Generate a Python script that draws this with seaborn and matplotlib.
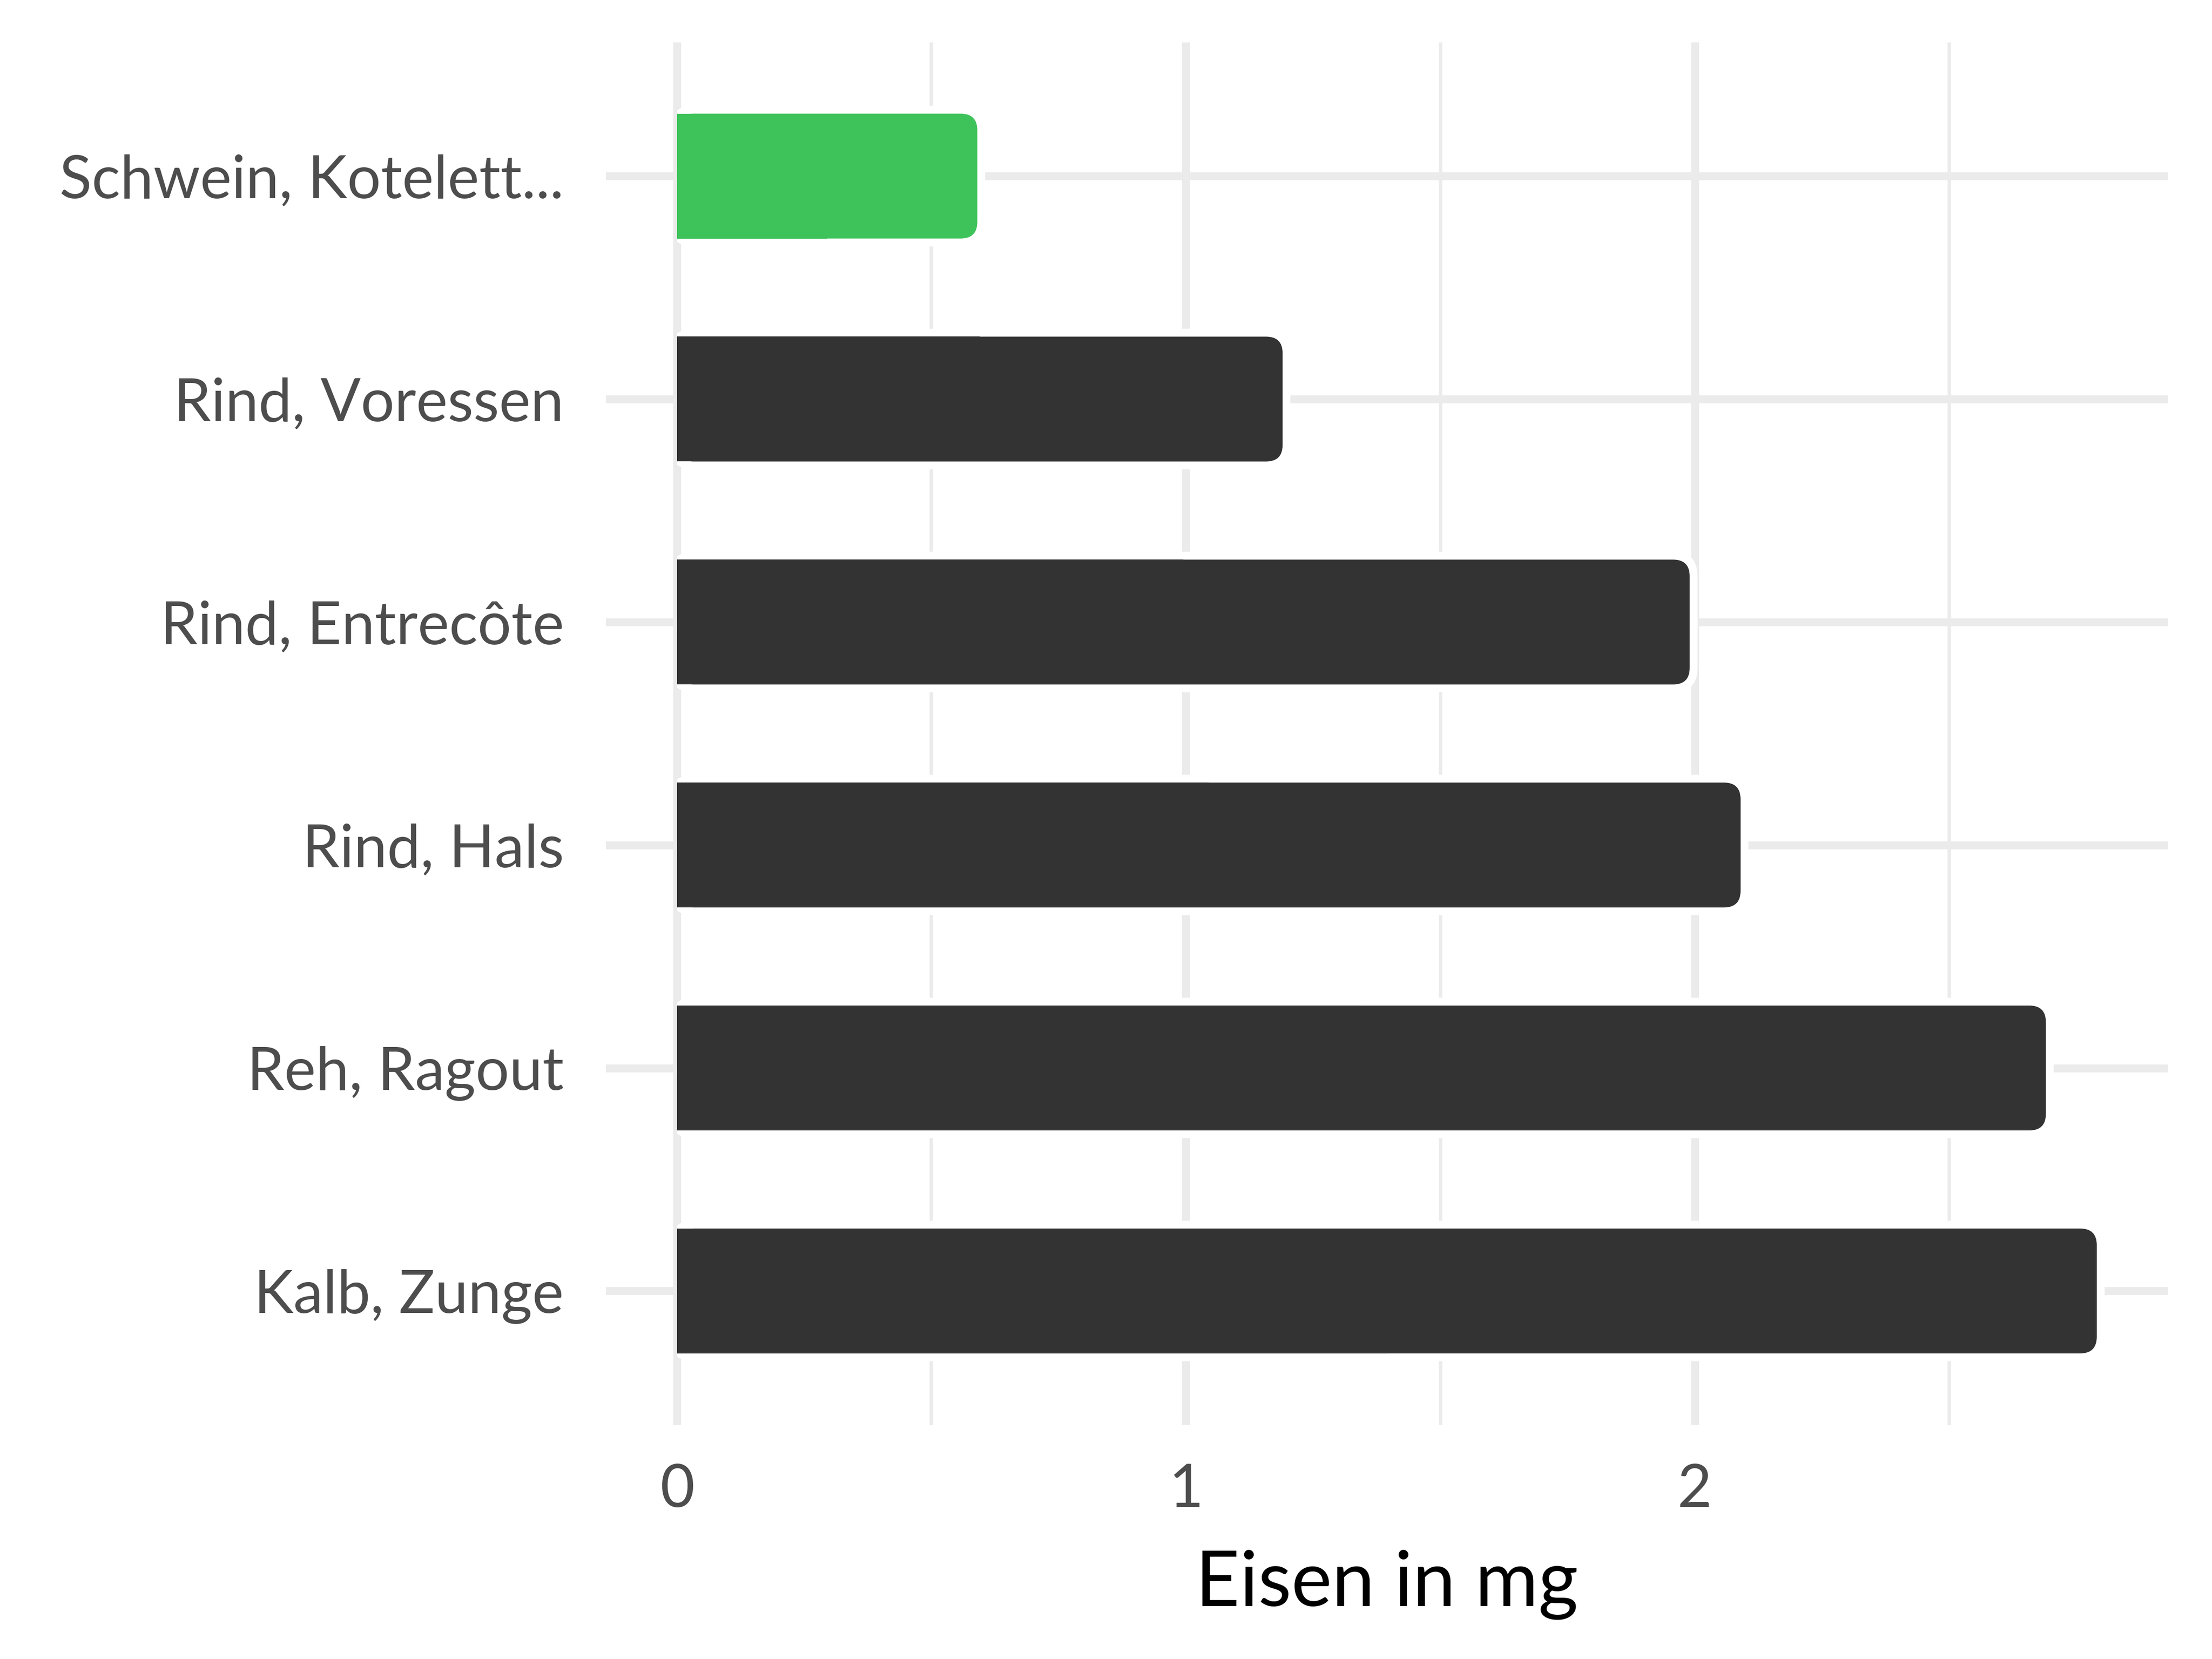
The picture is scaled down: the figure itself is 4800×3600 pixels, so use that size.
import matplotlib
matplotlib.use("Agg")
import matplotlib.pyplot as plt
import seaborn as sns
import pandas as pd
from matplotlib.patches import FancyBboxPatch, Rectangle

categories = ["Schwein, Kotelett...", "Rind, Voressen", "Rind, Entrecôte",
              "Rind, Hals", "Reh, Ragout", "Kalb, Zunge"]
values = [0.59, 1.19, 1.99, 2.09, 2.69, 2.79]
colors = ["#3EC35A", "#333333", "#333333", "#333333", "#333333", "#333333"]
x_ticks = [0, 1, 2]
x_label = "Eisen in mg"

sns.set_theme(style="white")
plt.rcParams["font.family"] = ["Lato", "DejaVu Sans"]

df = pd.DataFrame({"cat": categories, "val": values})

fig = plt.figure(figsize=(16, 12), dpi=300)
ax = fig.add_axes([0.274, 0.1412, 0.706, 0.8333])

sns.barplot(data=df, y="cat", x="val", hue="cat", palette=colors,
            orient="h", width=0.56, legend=False, ax=ax, saturation=1)

xmax = max(values)
ax.set_xlim(-0.05 * xmax, 1.05 * xmax)
ax.set_ylim(len(categories) - 1 + 0.6, -0.6)

for s in ax.spines.values():
    s.set_visible(False)

ax.set_xticks(x_ticks)
ax.set_xticks([0.5, 1.5, 2.5], minor=True)
ax.grid(True, which="major", axis="both", color="#EBEBEB", linewidth=4.1)
ax.grid(True, which="minor", axis="x", color="#EBEBEB", linewidth=1.8)
ax.set_axisbelow(True)

ax.tick_params(axis="both", which="both", length=0)
ax.tick_params(axis="y", pad=22, labelsize=31, labelcolor="#4D4D4D")
ax.tick_params(axis="x", pad=20, labelsize=31, labelcolor="#4D4D4D")
ax.set_ylabel("")
ax.set_xlabel(x_label, fontsize=40, color="black", labelpad=17)

# compute aspect for round corners
p0 = ax.transData.transform((0, 0))
p1 = ax.transData.transform((1, 1))
px_x = abs(p1[0] - p0[0])
px_y = abs(p1[1] - p0[1])
asp = px_x / px_y
r = 36 / px_x
pad = 17 / px_x

clip = Rectangle((0, -10), 100, 100, transform=ax.transData)

for patch in list(ax.patches):
    x, y = patch.get_x(), patch.get_y()
    w, h = patch.get_width(), patch.get_height()
    fc = patch.get_facecolor()
    patch.set_visible(False)
    halo = FancyBboxPatch((x, y), w, h,
                          boxstyle=f"round,pad={pad},rounding_size={r + pad}",
                          mutation_aspect=asp, fc="white", ec="none", zorder=1.5)
    ax.add_patch(halo)
    halo.set_clip_path(clip)
    bar = FancyBboxPatch((x, y), w, h,
                         boxstyle=f"round,pad=0,rounding_size={r}",
                         mutation_aspect=asp, fc=fc, ec="none", zorder=2)
    ax.add_patch(bar)
    ax.add_patch(Rectangle((x, y), w / 2, h, fc=fc, ec="none", zorder=2))

fig.savefig("out.png", dpi=300, facecolor="white")
